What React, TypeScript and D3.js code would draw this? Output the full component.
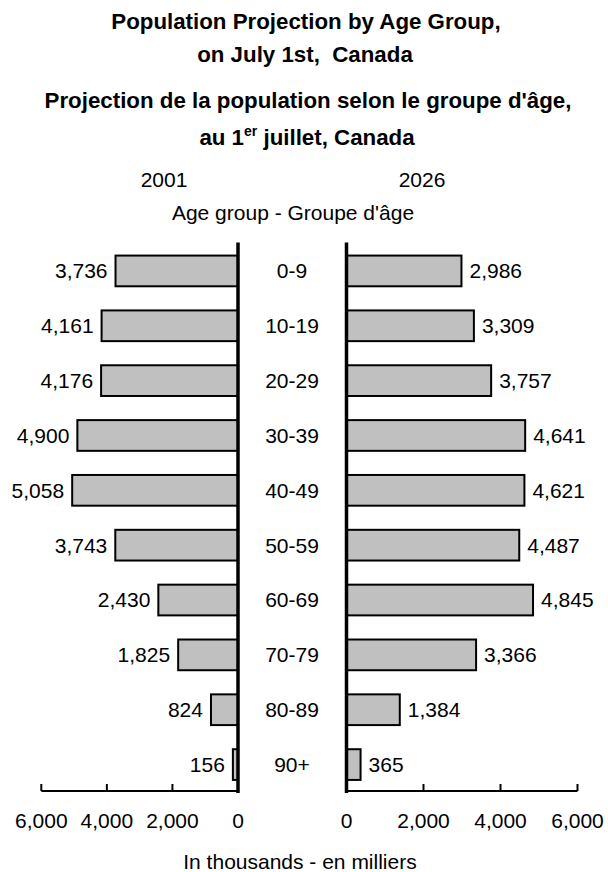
import React from "react";
import * as d3 from "d3";

const ageGroups = ["0-9", "10-19", "20-29", "30-39", "40-49", "50-59", "60-69", "70-79", "80-89", "90+"];
const values2001 = [3736, 4161, 4176, 4900, 5058, 3743, 2430, 1825, 824, 156];
const values2026 = [2986, 3309, 3757, 4641, 4621, 4487, 4845, 3366, 1384, 365];
const tickValues = [0, 2000, 4000, 6000];
const titleLines = ["Population Projection by Age Group,", "on July 1st,  Canada", "Projection de la population selon le groupe d'âge,"];
const leftHeader = "2001";
const rightHeader = "2026";
const middleHeader = "Age group - Groupe d'âge";
const xAxisTitle = "In thousands - en milliers";

const W = 608;
const H = 872;
const FONT = "Arial, 'Liberation Sans', sans-serif";
const fmt = d3.format(",");

export default function App() {
  const y = d3.scaleBand<string>().domain(ageGroups).range([243.5, 792]).paddingInner(0.44).paddingOuter(0.22);
  const xL = d3.scaleLinear().domain([0, 6000]).range([238, 41.3]);
  const xR = d3.scaleLinear().domain([0, 6000]).range([346.5, 577.5]);
  const axisY = 791;
  const bw = y.bandwidth();

  return (
    <svg width={W} height={H} style={{ position: "absolute", left: 0, top: 0, background: "#fff" }} fontFamily={FONT}>
      <rect width={W} height={H} fill="#fff" />
      {/* titles */}
      <g fontWeight="bold" fontSize={22.3} textAnchor="middle" fill="#000">
        <text x={306} y={28.5}>{titleLines[0]}</text>
        <text x={305} y={62}>{titleLines[1].replace(/  /g, " \u00a0")}</text>
        <text x={308} y={108}>{titleLines[2]}</text>
        <text x={307} y={145}>
          au 1<tspan fontSize={14} dy={-9}>er</tspan>
          <tspan dy={9}> juillet, Canada</tspan>
        </text>
      </g>
      <g fontSize={21} fill="#000" textAnchor="middle">
        <text x={164} y={187}>{leftHeader}</text>
        <text x={422} y={187}>{rightHeader}</text>
        <text x={293} y={220}>{middleHeader}</text>
        <text x={300} y={869}>{xAxisTitle}</text>
      </g>
      {/* bars left */}
      {ageGroups.map((g, i) => (
        <g key={"l" + g}>
          <rect x={xL(values2001[i])} y={y(g)!} width={xL(0) - xL(values2001[i])} height={bw} fill="#c0c0c0" stroke="#000" strokeWidth={2} />
          <text x={xL(values2001[i]) - 8} y={y(g)! + bw / 2} dy="0.35em" textAnchor="end" fontSize={21}>{fmt(values2001[i])}</text>
        </g>
      ))}
      {ageGroups.map((g, i) => (
        <g key={"r" + g}>
          <rect x={xR(0)} y={y(g)!} width={xR(values2026[i]) - xR(0)} height={bw} fill="#c0c0c0" stroke="#000" strokeWidth={2} />
          <text x={xR(values2026[i]) + 8} y={y(g)! + bw / 2} dy="0.35em" textAnchor="start" fontSize={21}>{fmt(values2026[i])}</text>
        </g>
      ))}
      {ageGroups.map((g) => (
        <text key={"c" + g} x={292} y={y(g)! + bw / 2} dy="0.35em" textAnchor="middle" fontSize={21}>{g}</text>
      ))}
      {/* axes */}
      <line x1={xL(6000)} x2={xL(0)} y1={axisY} y2={axisY} stroke="#000" strokeWidth={2} />
      <line x1={xR(0)} x2={xR(6000)} y1={axisY} y2={axisY} stroke="#000" strokeWidth={2} />
      {tickValues.map((t) => (
        <g key={"t" + t}>
          <line x1={xL(t)} x2={xL(t)} y1={axisY} y2={axisY - 7} stroke="#000" strokeWidth={2} />
          <text x={xL(t)} y={821} dy="0.35em" textAnchor="middle" fontSize={21}>{fmt(t)}</text>
          <line x1={xR(t)} x2={xR(t)} y1={axisY} y2={axisY - 7} stroke="#000" strokeWidth={2} />
          <text x={xR(t)} y={821} dy="0.35em" textAnchor="middle" fontSize={21}>{fmt(t)}</text>
        </g>
      ))}
      <line x1={xL(0)} x2={xL(0)} y1={242.5} y2={793} stroke="#000" strokeWidth={3.5} />
      <line x1={xR(0)} x2={xR(0)} y1={242.5} y2={793} stroke="#000" strokeWidth={3.5} />
    </svg>
  );
}
